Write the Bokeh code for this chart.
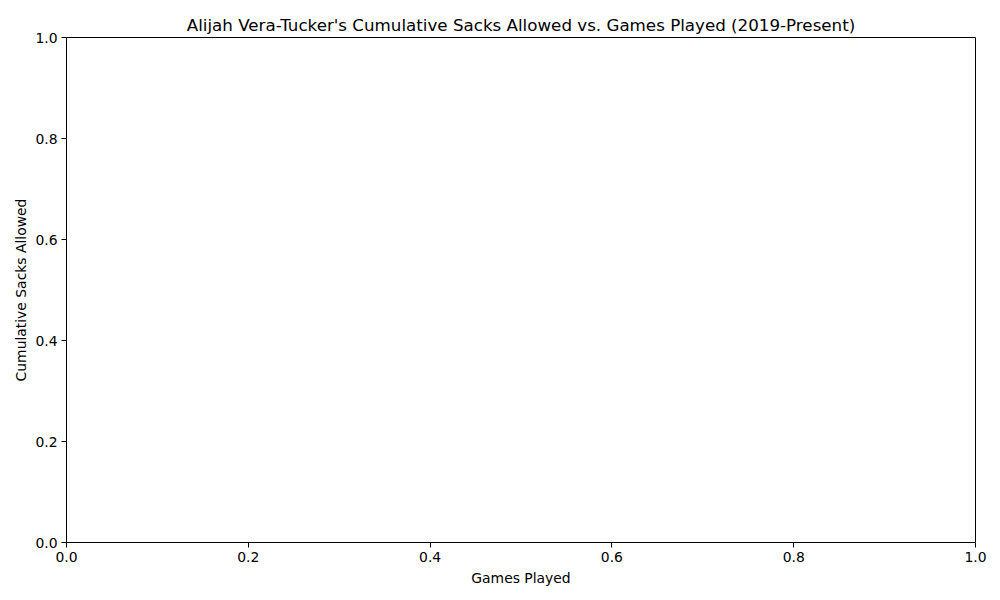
from bokeh.plotting import figure
from bokeh.models import Range1d, ColumnDataSource, FixedTicker, CustomJSTickFormatter
from bokeh.embed import file_html
from bokeh.resources import INLINE

# The reference chart shows no data points (empty series)
games_played = []
cumulative_sacks = []
x_ticks = [0.0, 0.2, 0.4, 0.6, 0.8, 1.0]
y_ticks = [0.0, 0.2, 0.4, 0.6, 0.8, 1.0]

source = ColumnDataSource(data=dict(x=games_played, y=cumulative_sacks))

p = figure(
    output_backend="svg", toolbar_location=None,
    frame_width=909, frame_height=505,
    min_border_left=66, min_border_right=25, min_border_top=37, min_border_bottom=56,
    x_range=Range1d(0, 1), y_range=Range1d(0, 1),
    title="Alijah Vera-Tucker's Cumulative Sacks Allowed vs. Games Played (2019-Present)",
)
p.line("x", "y", source=source, line_color="#1f77b4", line_width=2)

p.title.align = "center"
p.title.text_font = "DejaVu Sans"
p.title.text_font_size = "16.7px"
p.title.text_font_style = "normal"
p.title.text_color = "black"
p.title.standoff = 6

p.xgrid.visible = False
p.ygrid.visible = False
p.outline_line_color = "black"
p.outline_line_width = 1
p.outline_line_alpha = 1

for ax, ticks, label in ((p.xaxis[0], x_ticks, "Games Played"), (p.yaxis[0], y_ticks, "Cumulative Sacks Allowed")):
    ax.ticker = FixedTicker(ticks=ticks)
    ax.axis_label = label
    ax.axis_label_text_font = "DejaVu Sans"
    ax.axis_label_text_font_size = "13.9px"
    ax.axis_label_text_font_style = "normal"
    ax.axis_label_text_color = "black"
    ax.major_label_text_font = "DejaVu Sans"
    ax.major_label_text_font_size = "13.9px"
    ax.major_label_text_color = "black"
    ax.major_tick_out = 5
    ax.major_tick_in = 0
    ax.minor_tick_out = 0
    ax.minor_tick_in = 0
    ax.axis_line_color = "black"
    ax.major_tick_line_color = "black"
    ax.major_label_standoff = 4
    ax.formatter = CustomJSTickFormatter(code="return tick.toFixed(1);")

p.xaxis[0].axis_label_standoff = 5
p.yaxis[0].axis_label_standoff = 3

open("out.html", "w").write(file_html(p, INLINE))
